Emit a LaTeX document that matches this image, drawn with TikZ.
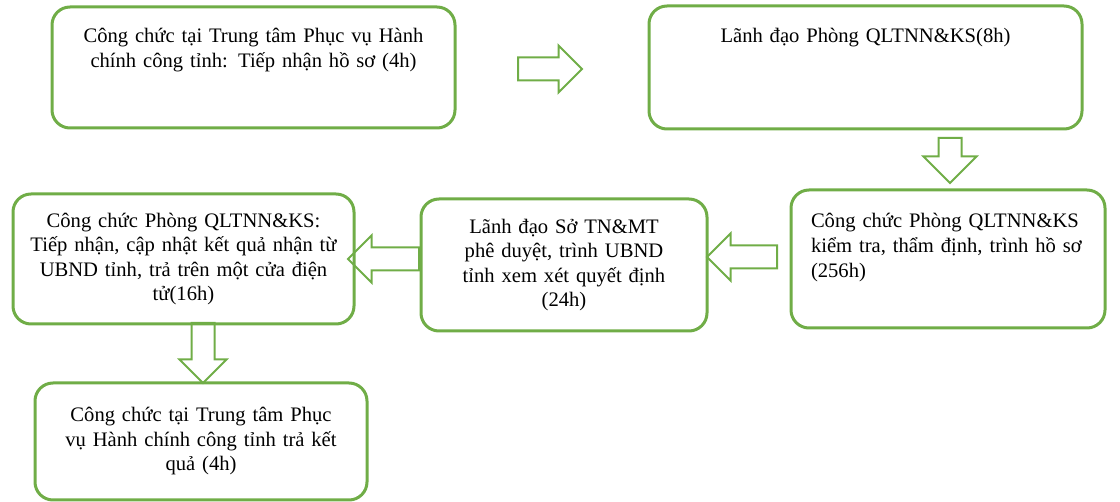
\documentclass[tikz,border=0pt]{standalone}
\usepackage{fontspec}
\setmainfont{Liberation Serif}
\usetikzlibrary{positioning,shapes.arrows}
\definecolor{xanhla}{RGB}{112,173,71}
\tikzset{
    %Define style for boxes
    hop/.style={
           rectangle,
           rounded corners=18pt,
           draw=xanhla, line width=3pt,
           inner sep=0pt, outer sep=0pt,
           font=\fontsize{20.6}{24.5}\selectfont,
           align=center},
    % Define hollow block arrow style
    muiten/.style={
           single arrow,
           draw=xanhla, line width=2pt,
           inner sep=0pt, outer sep=0pt,
           minimum width=0pt,
           text height=21pt, text depth=0pt,
           single arrow tip angle=90,
           single arrow head extend=12pt,
           anchor=tip,
           minimum height=#1}
}
\begin{document}
\begin{tikzpicture}[x=1pt,y=-1pt]
		\useasboundingbox (0,0) rectangle (1120,502);
		\node[hop, minimum width=403pt, minimum height=121pt, text width=390pt, text height=36pt, text depth=85pt] (hop1) at (253.5,67.5) {Công chức tại Trung tâm Phục vụ Hành\\chính công tỉnh: Tiếp nhận hồ sơ (4h)};
		\node[hop, minimum width=433pt, minimum height=123pt, text width=420pt, text height=37pt, text depth=86pt, right=194pt of hop1] (hop2) {Lãnh đạo Phòng QLTNN\&KS(8h)};
		\node[hop, minimum width=314pt, minimum height=138pt, text width=274pt, align=left, font=\fontsize{20.6}{25}\selectfont, text height=38pt, text depth=100pt, below=61pt of hop2, xshift=82.5pt] (hop3) {Công chức Phòng QLTNN\&KS\\kiểm tra, thẩm định, trình hồ sơ\\(256h)};
		\node[hop, minimum width=286pt, minimum height=132pt, text width=276pt, left=84pt of hop3, yshift=-6pt] (hop4) {Lãnh đạo Sở TN\&MT\\phê duyệt, trình UBND\\tỉnh xem xét quyết định\\(24h)};
		\node[hop, minimum width=341pt, minimum height=130pt, text width=334pt, left=67pt of hop4, yshift=6pt] (hop5) {Công chức Phòng QLTNN\&KS:\\Tiếp nhận, cập nhật kết quả nhận từ\\UBND tỉnh, trả trên một cửa điện\\tử(16h)};
		\node[hop, minimum width=332pt, minimum height=117pt, text width=322pt, below=59pt of hop5, xshift=17.5pt] (hop6) {Công chức tại Trung tâm Phục\\vụ Hành chính công tỉnh trả kết\\quả (4h)};
		\node[muiten=64pt] (mt1) at ([xshift=127pt,yshift=-1.5pt]hop1.east) {};
		\node[muiten=45pt, single arrow head extend=15pt, rotate=-90] (mt2) at ([xshift=2pt,yshift=7pt]hop3.north) {};
		\node[muiten=70pt, shape border rotate=180] (mt3) at ([yshift=8pt]hop4.east) {};
		\node[muiten=71pt, shape border rotate=180] (mt4) at ([xshift=-6pt]hop5.east) {};
		\node[muiten=60pt, rotate=-90] (mt5) at ([xshift=2pt]hop6.north) {};
	\end{tikzpicture}
\end{document}
